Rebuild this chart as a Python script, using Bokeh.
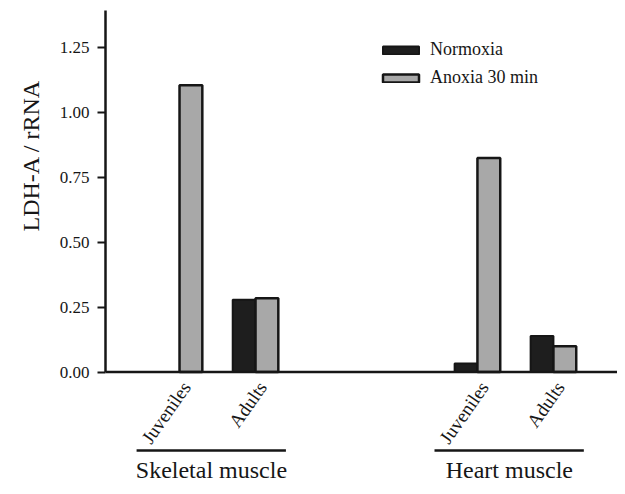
import math
from bokeh.plotting import figure
from bokeh.models import (Range1d, FixedTicker, Span, Legend, LegendItem, ColumnDataSource,
                          PrintfTickFormatter, Title, LinearAxis)
from bokeh.core.properties import value
from bokeh.embed import file_html
from bokeh.resources import INLINE

groups = ["Skeletal muscle", "Heart muscle"]
stages = ["Juveniles", "Adults"]
normoxia = [0.0, 0.278, 0.033, 0.139]
anoxia = [1.105, 0.284, 0.824, 0.099]
y_ticks = [0.0, 0.25, 0.5, 0.75, 1.0, 1.25]
series_names = ["Normoxia", "Anoxia 30 min"]
y_title = "LDH-A / rRNA"

FONT = "Liberation Serif"
INK = "#161616"
group_step = 3.92
bar_w = 0.3
x_start, x_end = -0.974, 5.763

centers = [g * group_step + i for g in range(len(groups)) for i in range(len(stages))]
stage_labels = [s for g in groups for s in stages]
group_centers = [(centers[2 * g] + centers[2 * g + 1]) / 2 for g in range(len(groups))]
label_shift = -0.08

p = figure(width=617, height=486, output_backend="svg", toolbar_location=None,
           x_range=Range1d(x_start, x_end), y_range=Range1d(-0.310, 1.431),
           x_axis_location=None, min_border_left=105, min_border_right=0,
           min_border_top=0, min_border_bottom=34)
p.outline_line_color = None
p.xgrid.visible = False
p.ygrid.visible = False
p.background_fill_color = "white"

src = ColumnDataSource(dict(
    xn=[c - bar_w / 2 for c in centers],
    xa=[c + bar_w / 2 for c in centers],
    n=normoxia, a=anoxia))

rn = p.vbar(x="xn", top="n", width=bar_w, source=src, fill_color="#1e1e1e",
            line_color=INK, line_width=2)
ra = p.vbar(x="xa", top="a", width=bar_w, source=src, fill_color="#a8a8a8",
            line_color=INK, line_width=2.5)

p.add_layout(Span(location=0, dimension="width", line_color=INK, line_width=2.5))

ax = p.yaxis[0]
ax.ticker = FixedTicker(ticks=y_ticks)
ax.formatter = PrintfTickFormatter(format="%.2f")
ax.bounds = (0, 1.393)
ax.axis_line_width = 2.5
ax.axis_line_color = INK
ax.major_tick_line_width = 2
ax.major_tick_line_color = INK
ax.major_tick_out = 8
ax.major_tick_in = 0
ax.minor_tick_line_color = None
ax.major_label_standoff = 8
ax.major_label_text_font = FONT
ax.major_label_text_font_size = "17px"
ax.major_label_text_color = INK

ytitle = Title(text=y_title, align="left", offset=221, standoff=26,
               text_font=FONT, text_font_size="24px", text_font_style="normal",
               text_color=INK)
p.add_layout(ytitle, "left")

# rotated stage labels
p.text(x=[c + 0.09 for c in centers], y=[-0.045] * len(centers), text=stage_labels,
       angle=math.radians(55), text_align="right", text_baseline="middle",
       text_font=value(FONT), text_font_size="19px", text_color=INK)

# group lines
p.segment(x0=[gc - 1.065 for gc in group_centers], y0=[-0.302] * len(groups),
          x1=[gc + 0.9 for gc in group_centers], y1=[-0.302] * len(groups),
          line_color=INK, line_width=2.5)

# group names on a bottom axis (range scaled so group i sits at tick i)
p.extra_x_ranges["grp"] = Range1d((x_start - (group_centers[0] + label_shift)) / group_step,
                                  (x_end - (group_centers[0] + label_shift)) / group_step)
gax = LinearAxis(x_range_name="grp", ticker=FixedTicker(ticks=list(range(len(groups)))),
                 major_label_overrides={i: g for i, g in enumerate(groups)})
gax.axis_line_color = None
gax.major_tick_line_color = None
gax.minor_tick_line_color = None
gax.major_tick_out = 0
gax.major_tick_in = 0
gax.major_label_standoff = 4
gax.major_label_text_font = FONT
gax.major_label_text_font_size = "24px"
gax.major_label_text_color = INK
p.add_layout(gax, "below")

legend = Legend(items=[LegendItem(label=series_names[0], renderers=[rn]),
                       LegendItem(label=series_names[1], renderers=[ra])],
                location=(273, 364))
legend.glyph_width = 45
legend.glyph_height = 10
legend.label_height = 20
legend.label_standoff = 7
legend.spacing = 7
legend.padding = 0
legend.margin = 0
legend.border_line_color = None
legend.background_fill_alpha = 0
legend.label_text_font = FONT
legend.label_text_font_size = "18px"
legend.label_text_color = INK
p.add_layout(legend)

open("out.html", "w").write(file_html(p, INLINE))
